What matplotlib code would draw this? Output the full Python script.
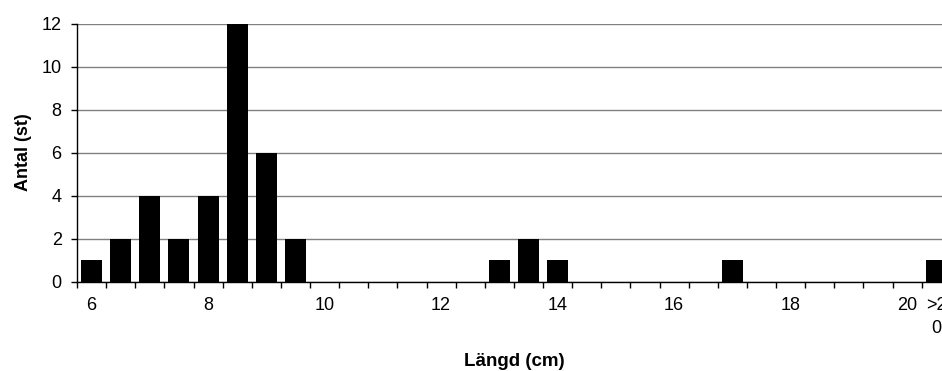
import matplotlib
matplotlib.use("Agg")
import matplotlib.pyplot as plt
import numpy as np

plt.rcParams['font.family'] = ['Liberation Sans', 'DejaVu Sans']

categories = ["6", "6,5", "7", "7,5", "8", "8,5", "9", "9,5", "10", "10,5",
              "11", "11,5", "12", "12,5", "13", "13,5", "14", "14,5", "15", "15,5",
              "16", "16,5", "17", "17,5", "18", "18,5", "19", "19,5", "20", ">20"]
counts = [1, 2, 4, 2, 4, 12, 6, 2, 0, 0,
          0, 0, 0, 0, 1, 2, 1, 0, 0, 0,
          0, 0, 1, 0, 0, 0, 0, 0, 0, 1]
shown_labels = {"6": "6", "8": "8", "10": "10", "12": "12", "14": "14",
                "16": "16", "18": "18", "20": "20", ">20": ">2\n0"}
y_ticks = [0, 2, 4, 6, 8, 10, 12]

fig = plt.figure(figsize=(9.42, 3.71), dpi=100)
ax = fig.add_axes([77/942, 89.3/371, (950.8-77)/942, (281.7-24)/371])

x = np.arange(len(categories))
ax.bar(x, counts, width=0.72, color='black', zorder=3)

ax.set_xlim(-0.5, len(categories) - 0.5)
ax.set_ylim(0, 12)
ax.set_yticks(y_ticks)
ax.set_yticklabels([str(v) for v in y_ticks], fontsize=13)
ax.yaxis.grid(True, color='#808080', linewidth=1.0, zorder=0)

ax.set_xticks(x)
ax.set_xticklabels([shown_labels.get(c, "") for c in categories], fontsize=13,
                   linespacing=1.5, va='top')
ax.tick_params(axis='x', which='major', length=0, pad=11)
ax.set_xticks(np.arange(len(categories) + 1) - 0.5, minor=True)
ax.tick_params(axis='x', which='minor', length=4, width=1, direction='out', color='black')
ax.tick_params(axis='y', length=4, width=1, direction='out', pad=7)

for s in ['top', 'right']:
    ax.spines[s].set_visible(False)
ax.spines['left'].set_color('black')
ax.spines['bottom'].set_color('black')
ax.spines['left'].set_linewidth(1)
ax.spines['bottom'].set_linewidth(1)

fig.text(514/942, 1 - 362/371, "Längd (cm)", fontsize=13.5, fontweight='bold',
         ha='center', va='center')
fig.text(24/942, 1 - 152/371, "Antal (st)", fontsize=13, fontweight='bold',
         ha='center', va='center', rotation=90)

fig.savefig("out.png", dpi=100)
